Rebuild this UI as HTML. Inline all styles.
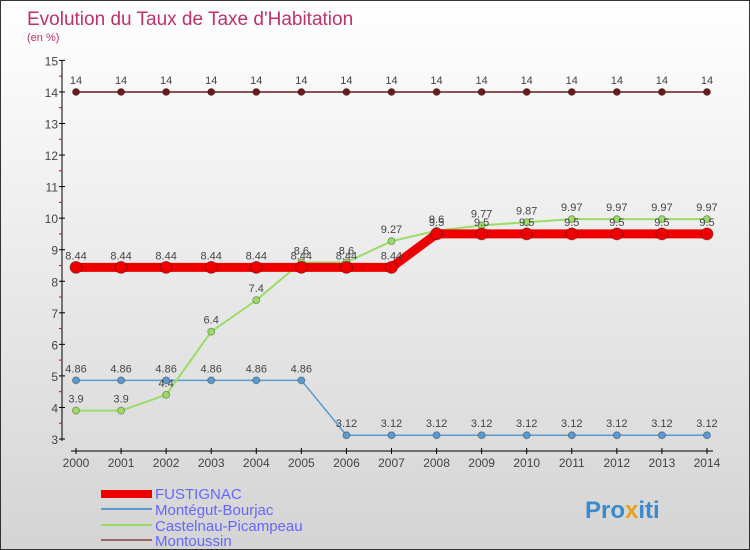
<!DOCTYPE html>
<html><head><meta charset="utf-8"><style>
body{margin:0}
#c{width:748px;height:548px;border:1px solid #333;background:linear-gradient(#fff,#d4d4d4);position:relative;font-family:"Liberation Sans",sans-serif;overflow:hidden}
</style></head><body>
<div id="c">
<svg id="s" width="748" height="548">
<text x="26" y="24" font-size="19" fill="#c0306a">Evolution du Taux de Taxe d'Habitation</text>
<text x="26" y="40" font-size="11" fill="#c0306a">(en %)</text>
<g id="axes"></g><g id="plot"></g>
<g>
<rect x="100" y="489" width="51" height="8" fill="#e00"/>
<text x="154" y="498" font-size="15" fill="#66f">FUSTIGNAC</text>
<line x1="100" y1="508" x2="151" y2="508" stroke="#5a9ad0" stroke-width="2"/>
<text x="154" y="514" font-size="15" fill="#66f">Montégut-Bourjac</text>
<line x1="100" y1="524" x2="151" y2="524" stroke="#9d6" stroke-width="2"/>
<text x="154" y="530" font-size="15" fill="#66f">Castelnau-Picampeau</text>
<line x1="100" y1="539" x2="151" y2="539" stroke="#966" stroke-width="2"/>
<text x="154" y="545" font-size="15" fill="#66f">Montoussin</text>
</g>
<text x="584" y="517" font-size="24" font-weight="bold" fill="#3a8ad0">Pro<tspan fill="#e8a020">x</tspan>iti</text>
</svg></div>
<script>
const years=[2000,2001,2002,2003,2004,2005,2006,2007,2008,2009,2010,2011,2012,2013,2014];
const fustignac=[8.44,8.44,8.44,8.44,8.44,8.44,8.44,8.44,9.5,9.5,9.5,9.5,9.5,9.5,9.5];
const montegut=[4.86,4.86,4.86,4.86,4.86,4.86,3.12,3.12,3.12,3.12,3.12,3.12,3.12,3.12,3.12];
const castelnau=[3.9,3.9,4.4,6.4,7.4,8.6,8.6,9.27,9.6,9.77,9.87,9.97,9.97,9.97,9.97];
const montoussin=[14,14,14,14,14,14,14,14,14,14,14,14,14,14,14];
const yTicks=[3,4,5,6,7,8,9,10,11,12,13,14,15];
const NS="http://www.w3.org/2000/svg";
const xs=i=>75+i*45.07, ys=v=>438-(v-3)*31.55;
function mk(t,a,p){const e=document.createElementNS(NS,t);for(const k in a)e.setAttribute(k,a[k]);p.appendChild(e);return e;}
const ax=document.getElementById('axes'),pl=document.getElementById('plot');
let l=mk('line',{x1:61,y1:59,x2:61,y2:440,stroke:'#000'},ax);


l=mk('line',{x1:70,y1:450,x2:712,y2:450,stroke:'#000'},ax);


yTicks.forEach(v=>{const y=ys(v);mk('line',{x1:58,y1:y,x2:64,y2:y,stroke:'#000'},ax);
if(v<15)mk('line',{x1:58,y1:y-15.8,x2:61,y2:y-15.8,stroke:'#e00'},ax);
const t=mk('text',{x:57,y:y+5,'font-size':12,fill:'#444','text-anchor':'end'},ax);t.textContent=v;

});
years.forEach((yr,i)=>{mk('line',{x1:xs(i),y1:447,x2:xs(i),y2:453,stroke:'#000'},ax);
const t=mk('text',{x:xs(i),y:466,'font-size':12,fill:'#444','text-anchor':'middle'},ax);t.textContent=yr;

});
function series(d,col,w,r,name){
const g=mk('g',{},pl);


mk('polyline',{points:d.map((v,i)=>xs(i)+','+ys(v)).join(' '),fill:'none',stroke:col,'stroke-width':w},g);
d.forEach((v,i)=>{const c=mk('circle',{cx:xs(i),cy:ys(v),r:r,fill:col,stroke:'rgba(0,0,0,0.3)'},g);


const t=mk('text',{x:xs(i),y:ys(v)-8,'font-size':11,fill:'#444','text-anchor':'middle'},g);t.textContent=v;

});}
series(montoussin,'#6b1a1a',1.5,3.5,'montoussin');
series(montegut,'#5a9ad0',1.5,3.5,'montegut');
series(castelnau,'#9d6',2,3.5,'castelnau');
series(fustignac,'#e00',9,6,'fustignac');
</script>
</body></html>
